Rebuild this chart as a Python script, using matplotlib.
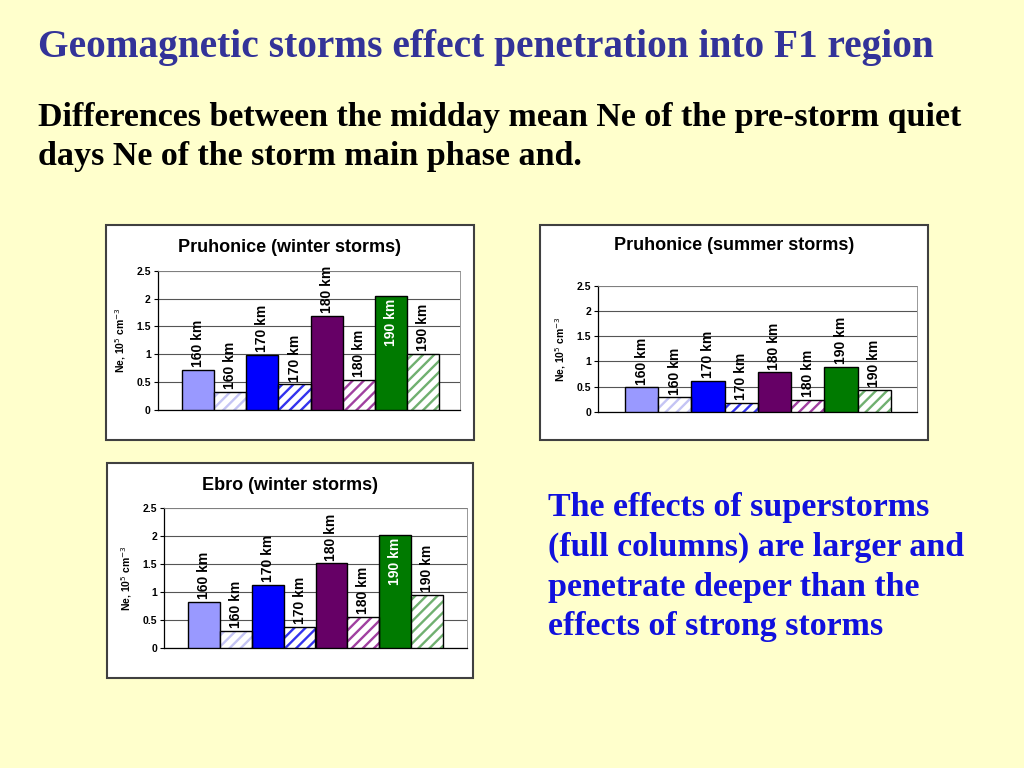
import matplotlib
matplotlib.use("Agg")
import matplotlib.pyplot as plt
from matplotlib.patches import Rectangle

plt.rcParams['font.family'] = ['Liberation Sans', 'DejaVu Sans']
plt.rcParams['hatch.linewidth'] = 1.7

# ---------------- data ----------------
bar_labels = ["160 km", "160 km", "170 km", "170 km", "180 km", "180 km", "190 km", "190 km"]
full_colors = ["#9999FF", "#0000FF", "#660066", "#007A00"]
hatch_colors = ["#C4C4F4", "#3333EE", "#A040A0", "#70B070"]

winter_pruhonice = [0.72, 0.32, 0.99, 0.46, 1.69, 0.54, 2.05, 1.01]
summer_pruhonice = [0.49, 0.29, 0.62, 0.18, 0.78, 0.24, 0.89, 0.44]
winter_ebro = [0.82, 0.30, 1.12, 0.38, 1.51, 0.55, 2.02, 0.95]

titles = ["Pruhonice (winter storms)", "Pruhonice (summer storms)", "Ebro (winter storms)"]
yticks = [0, 0.5, 1, 1.5, 2, 2.5]
yticklabels = ["0", "0.5", "1", "1.5", "2", "2.5"]

W, H = 1024, 768
fig = plt.figure(figsize=(W / 100, H / 100), dpi=100)
fig.patch.set_facecolor("#FFFFCC")


def fx(x):
    return x / W


def fy(y):
    return 1 - y / H


def box(x0, y0, x1, y1):
    r = Rectangle((fx(x0), fy(y1)), fx(x1) - fx(x0), fy(y0) - fy(y1),
                  transform=fig.transFigure, facecolor="white",
                  edgecolor="#404040", linewidth=1.5, zorder=-5)
    fig.add_artist(r)


def panel(box_rect, ax_rect, title, title_y, values, xmargins, inside_190):
    bx0, by0, bx1, by1 = box_rect
    box(bx0, by0, bx1, by1)
    l, t, r, b = ax_rect
    ax = fig.add_axes([fx(l), fy(b), fx(r) - fx(l), fy(t) - fy(b)])
    ax.set_zorder(2)
    ax.set_facecolor("white")
    for i, v in enumerate(values):
        g = i // 2
        if i % 2 == 0:
            ax.bar(i, v, width=1.0, color=full_colors[g], edgecolor="black",
                   linewidth=1.0, zorder=3)
        else:
            ax.bar(i, v, width=1.0, color="white", edgecolor=hatch_colors[g],
                   hatch="///", linewidth=0, zorder=3)
            ax.bar(i, v, width=1.0, fill=False, edgecolor="black",
                   linewidth=1.0, zorder=4)
        if inside_190 and i == 6:
            ax.text(i, v - 0.05, bar_labels[i], rotation=90, ha="center", va="top",
                    fontsize=10, fontweight="bold", color="white", zorder=5)
        else:
            ax.text(i, v + 0.05, bar_labels[i], rotation=90, ha="center", va="bottom",
                    fontsize=10, fontweight="bold", color="black", zorder=5,
                    clip_on=False)
    ax.set_ylim(0, 2.5)
    ax.set_xlim(-0.5 - xmargins[0], len(values) - 0.5 + xmargins[1])
    ax.set_yticks(yticks)
    ax.set_yticklabels(yticklabels, fontsize=7.5, fontweight="bold")
    ax.set_xticks([])
    ax.yaxis.grid(True, color="#555555", linewidth=0.8, zorder=0)
    ax.set_axisbelow(True)
    for s in ["top", "right"]:
        ax.spines[s].set_color("#888888")
        ax.spines[s].set_linewidth(0.6)
    for s in ["left", "bottom"]:
        ax.spines[s].set_color("black")
        ax.spines[s].set_linewidth(0.9)
    ax.tick_params(axis="y", length=3, width=0.8, pad=2)
    ax.set_ylabel("Ne, 10$^5$ cm$^{-3}$", fontsize=7.5, fontweight="bold", labelpad=6)
    fig.text(fx((bx0 + bx1) / 2), fy(title_y), title, ha="center", va="center",
             fontsize=13, fontweight="bold", zorder=3)
    return ax


panel((106, 225, 474, 440), (157.7, 270.7, 460, 410), titles[0], 247,
      winter_pruhonice, (0.76, 0.65), True)
panel((540, 225, 928, 440), (598, 286, 917, 411.7), titles[1], 246,
      summer_pruhonice, (0.81, 0.79), False)
panel((107, 463, 473, 678), (164, 508, 467, 648), titles[2], 486,
      winter_ebro, (0.75, 0.75), True)

fig.text(fx(38), fy(47), "Geomagnetic storms effect penetration into F1 region",
         family=["Liberation Serif", "DejaVu Serif"], fontweight="bold",
         fontsize=28.4, color="#333399", ha="left", va="center")
fig.text(fx(38), fy(137),
         "Differences between the midday mean Ne of the pre-storm quiet\n"
         "days Ne of the storm main phase and.",
         family=["Liberation Serif", "DejaVu Serif"], fontweight="bold",
         fontsize=24.5, color="black", ha="left", va="center", linespacing=1.37)
fig.text(fx(548), fy(567),
         "The effects of superstorms\n(full columns) are larger and\n"
         "penetrate deeper than the\neffects of strong storms",
         family=["Liberation Serif", "DejaVu Serif"], fontweight="bold",
         fontsize=24.5, color="#1111DD", ha="left", va="center", linespacing=1.37)

fig.savefig("out.png", dpi=100, facecolor=fig.get_facecolor())
